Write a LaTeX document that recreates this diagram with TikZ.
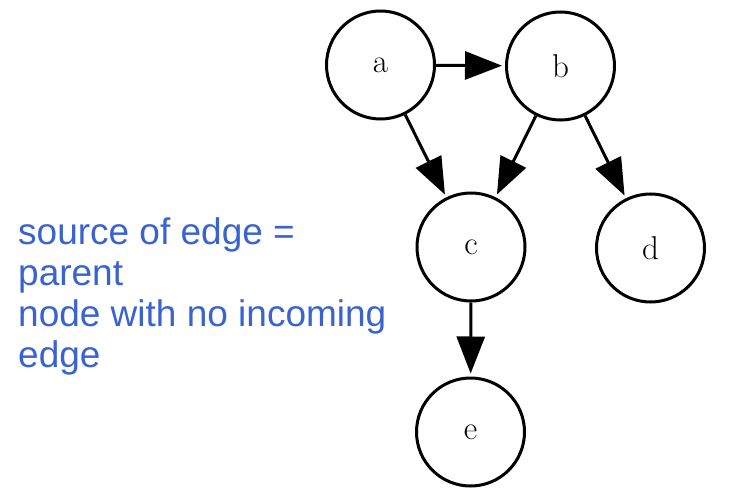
\documentclass[tikz,border=0pt]{standalone}
\usepackage{fontspec}
\newfontfamily\labelfont{Liberation Sans}
\usetikzlibrary{arrows.meta}
\definecolor{noteblue}{HTML}{3A63D2}
\tikzset{
  gnode/.style={circle, draw=black, line width=3pt, minimum size=108pt, inner sep=0pt, font=\fontsize{33}{36}\selectfont},
  garrow/.style={line width=3pt, -{Triangle[length=37pt,width=28pt]}, shorten >=3pt}
}
\begin{document}
\begin{tikzpicture}[x=1pt,y=-1pt]
\useasboundingbox (0,0) rectangle (736,497);
\node[gnode] (a) at (380.5,65) {a};
\node[gnode] (b) at (560.5,66) {b};
\node[gnode] (c) at (471,247) {c};
\node[gnode] (d) at (650.5,248) {d};
\node[gnode] (e) at (470.5,432) {e};
\draw[garrow] (a) -- (b);
\draw[garrow] (a) -- (c);
\draw[garrow] (b) -- (c);
\draw[garrow] (b) -- (d);
\draw[garrow] (c) -- (e);
\node[anchor=base west, inner sep=0pt, align=left, text=noteblue,
      font=\labelfont\fontsize{37}{41}\selectfont] (note) at (18,367)
  {source of edge =\\parent\\node with no incoming\\edge};
\end{tikzpicture}
\end{document}
